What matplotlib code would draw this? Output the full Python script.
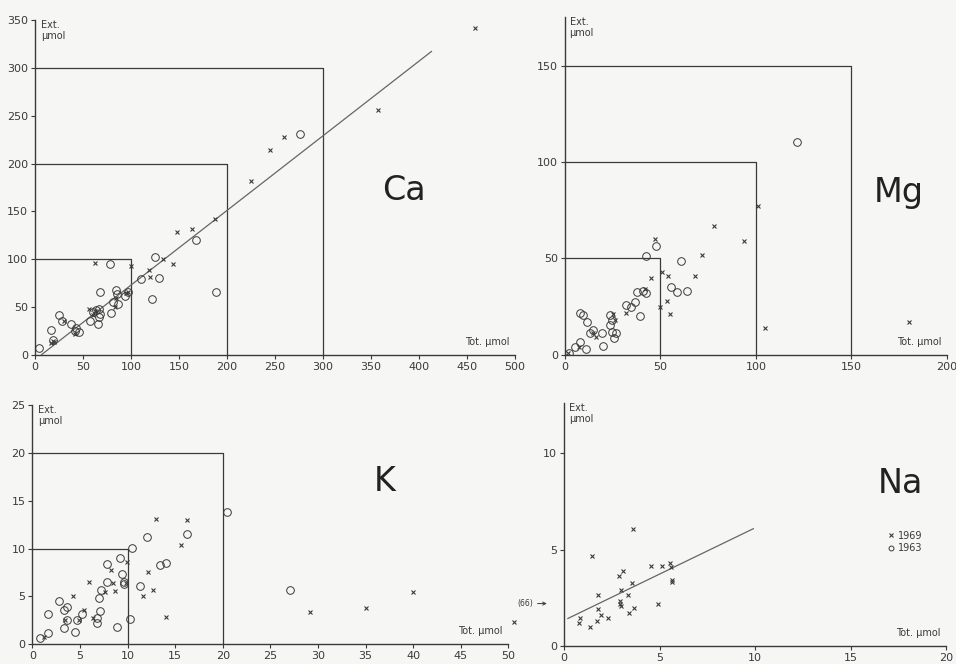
import numpy as np
import matplotlib
matplotlib.use("Agg")
import matplotlib.pyplot as plt
from matplotlib.lines import Line2D

INK = "#3a3a3a"
PAPER = "#f6f6f4"

# Ca: total vs extractable, umol
ca_tot_1969 = [458, 357, 259, 245, 225, 187, 164, 148, 133, 144, 119, 100, 62, 120,
               97, 84, 83, 56, 60, 62, 42, 19, 17, 30, 95, 20]
ca_ext_1969 = [342, 256, 228, 214, 182, 142, 132, 128, 100, 95, 89, 93, 96, 81,
               66, 60, 50, 48, 42, 46, 22, 15, 12, 35, 65, 14]
ca_tot_1963 = [276, 168, 125, 129, 110, 122, 189, 78, 68, 84, 85, 97, 94, 86, 81, 79,
               68, 67, 57, 66, 67, 25, 28, 38, 43, 46, 17, 19, 4, 42, 60, 64]
ca_ext_1963 = [231, 120, 102, 80, 79, 59, 66, 95, 66, 68, 64, 66, 62, 53, 55, 44,
               43, 48, 35, 32, 40, 42, 36, 32, 28, 24, 26, 16, 7, 25, 45, 47]
ca_fit = (0.78, -5.0)
ca_fit_range = (7, 413)

# Mg
mg_tot_1969 = [180, 105, 101, 94, 78, 72, 68, 47, 45, 51, 54, 53.5, 55, 49.7, 42,
               32, 25.3, 26, 7.5, 1.7, 14.8, 16.5]
mg_ext_1969 = [17, 14, 77, 59, 67, 52, 41, 60, 40, 43, 41, 28, 21, 25, 34,
               22, 21, 18, 4.3, 0.9, 11.3, 9.5]
mg_tot_1963 = [121.4, 42.7, 47.9, 61, 64, 58.7, 55.7, 42.7, 41, 37.5, 36.6, 34.8,
               31.7, 39.2, 7.8, 9.6, 11.3, 7.8, 11, 14.8, 13, 19.2, 19.7, 23.5,
               24.4, 26.7, 25.6, 23.5, 24.4, 5.2, 2.3]
mg_ext_1963 = [110.4, 51.5, 56.7, 48.9, 33, 32.6, 35, 32, 33, 32.4, 27.7, 25,
               26, 20, 21.7, 20.8, 17, 6.9, 3, 13, 11.3, 11.3, 4.7, 15.6,
               12.1, 11.3, 8.7, 20.8, 18.2, 4.3, 0.9]

# K
k_tot_1969 = [1.2, 4.3, 3.4, 4.9, 5.4, 6.0, 6.4, 7.6, 8.3, 8.5, 8.7, 9.9, 9.8,
              11.6, 12.1, 12.7, 13.0, 14.0, 15.6, 16.2, 29.2, 35.0, 40.0, 50.6]
k_ext_1969 = [0.8, 5.05, 2.5, 2.5, 3.6, 6.5, 2.7, 5.5, 7.8, 6.4, 5.6, 8.6, 6.4,
              5.0, 7.5, 5.7, 13.1, 2.9, 10.4, 13.0, 3.4, 3.8, 5.5, 2.36]
k_tot_1963 = [1.6, 1.6, 0.8, 2.8, 3.3, 3.6, 3.3, 3.6, 4.5, 4.7, 5.2, 6.8, 6.8,
              7.1, 7.0, 7.2, 7.8, 7.8, 9.2, 9.4, 9.6, 9.6, 8.9, 10.3, 10.5,
              11.3, 12.0, 13.4, 14.0, 16.2, 20.4, 27.1]
k_ext_1963 = [3.2, 1.15, 0.7, 4.55, 3.6, 3.9, 1.7, 2.5, 1.3, 2.5, 3.2, 2.2, 2.7,
              3.5, 4.8, 5.7, 6.5, 8.4, 9.05, 7.3, 6.55, 6.3, 1.8, 2.65, 10.1,
              6.1, 11.25, 8.3, 8.5, 11.5, 13.85, 5.7]

# Na (only 1969 samples)
na_tot_1969 = [3.59, 1.45, 4.53, 5.14, 5.54, 5.57, 5.63, 5.66, 3.07, 2.87, 3.57,
               2.98, 3.33, 1.76, 2.93, 2.93, 2.98, 4.9, 3.66, 3.4, 1.76, 1.92,
               1.74, 2.32, 0.84, 0.78, 1.36]
na_ext_1969 = [6.09, 4.67, 4.16, 4.16, 4.28, 4.1, 3.41, 3.33, 3.88, 3.62, 3.29,
               2.9, 2.67, 2.67, 2.33, 2.2, 2.07, 2.16, 1.95, 1.72, 1.91, 1.6,
               1.31, 1.43, 1.43, 1.21, 1.0]
na_fit = (0.48, 1.33)
na_fit_range = (0.2, 9.9)
na_offscale = (66, 2.2)


def setup(ax, xmax, xstep, ymax, ytop, ystep):
    ax.set_facecolor(PAPER)
    for side in ("top", "right"):
        ax.spines[side].set_visible(False)
    for side in ("left", "bottom"):
        ax.spines[side].set_color(INK)
        ax.spines[side].set_linewidth(1.0)
    ax.set_xlim(0, xmax)
    ax.set_ylim(0, ytop)
    ax.set_xticks(np.arange(0, xmax + xstep / 2, xstep))
    ax.set_yticks(np.arange(0, ymax + ystep / 2, ystep))
    ax.tick_params(direction="out", length=3, width=0.8, colors=INK,
                   labelsize=8, pad=2)
    ax.text(0.012, 1.0, "Ext.\nμmol", transform=ax.transAxes, ha="left",
            va="top", fontsize=7, color=INK, linespacing=1.1)
    ax.annotate("Tot. μmol", xy=(1, 0), xycoords="axes fraction",
                xytext=(-4, 6), textcoords="offset points",
                ha="right", va="bottom", fontsize=7, color=INK)


def boxes(ax, sizes):
    for v in sizes:
        ax.plot([0, v, v], [v, v, 0], color=INK, lw=0.9, zorder=1)


def scatter(ax, tx, ex, tc=None, ec=None):
    ax.plot(tx, ex, ls="none", marker="x", ms=3.5, mew=0.8, color=INK,
            clip_on=False, zorder=3)
    if tc is not None:
        ax.plot(tc, ec, ls="none", marker="o", ms=5.5, mew=0.7, mfc="none",
                mec=INK, zorder=3)


def fit_line(ax, coef, rng):
    x = np.array(rng)
    ax.plot(x, coef[0] * x + coef[1], color="#666666", lw=0.9, zorder=2)


fig = plt.figure(figsize=(9.56, 6.64), dpi=100, facecolor=PAPER)

ax_ca = fig.add_axes([0.0366, 0.4654, 0.5021, 0.5045])
ax_mg = fig.add_axes([0.591, 0.4654, 0.3993, 0.5086])
ax_k = fig.add_axes([0.0338, 0.0297, 0.4979, 0.3604])
ax_na = fig.add_axes([0.590, 0.0271, 0.400, 0.366])

setup(ax_ca, 500, 50, 350, 350, 50)
boxes(ax_ca, [100, 200, 300])
fit_line(ax_ca, ca_fit, ca_fit_range)
scatter(ax_ca, ca_tot_1969, ca_ext_1969, ca_tot_1963, ca_ext_1963)
ax_ca.text(384, 172, "Ca", fontsize=24, ha="center", va="center", color="#222222")

setup(ax_mg, 200, 50, 150, 175, 50)
boxes(ax_mg, [50, 100, 150])
scatter(ax_mg, mg_tot_1969, mg_ext_1969, mg_tot_1963, mg_ext_1963)
ax_mg.text(175, 84, "Mg", fontsize=24, ha="center", va="center", color="#222222")

setup(ax_k, 50, 5, 25, 25, 5)
boxes(ax_k, [10, 20])
scatter(ax_k, k_tot_1969, k_ext_1969, k_tot_1963, k_ext_1963)
ax_k.text(37, 17, "K", fontsize=24, ha="center", va="center", color="#222222")

setup(ax_na, 20, 5, 10, 12.6, 5)
fit_line(ax_na, na_fit, na_fit_range)
scatter(ax_na, na_tot_1969, na_ext_1969)
ax_na.text(17.6, 8.4, "Na", fontsize=24, ha="center", va="center", color="#222222")
ax_na.annotate(f"({na_offscale[0]})", xy=(-0.9, na_offscale[1]),
               xytext=(-1.6, na_offscale[1]), ha="right", va="center",
               fontsize=5.5, color=INK, annotation_clip=False,
               arrowprops=dict(arrowstyle="->", color=INK, lw=0.7,
                               shrinkA=1, shrinkB=0))

handles = [Line2D([], [], ls="none", marker="x", ms=3, mew=0.8, color=INK),
           Line2D([], [], ls="none", marker="o", ms=3.5, mew=0.7, mfc="none",
                  mec=INK)]
ax_na.legend(handles, ["1969", "1963"], loc="upper left",
             bbox_to_anchor=(0.846, 0.475), frameon=False, fontsize=7,
             handlelength=0.8, handletextpad=0.3, labelspacing=0.25,
             borderpad=0, borderaxespad=0, labelcolor=INK)

fig.savefig("out.png", dpi=100, facecolor=PAPER)
